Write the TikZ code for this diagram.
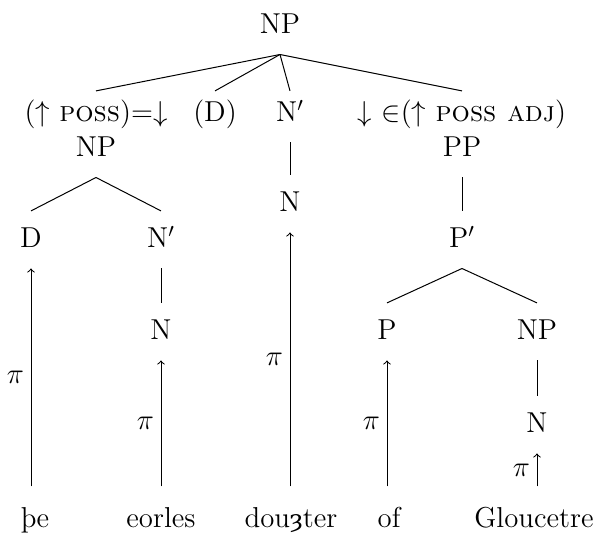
\documentclass[tikz,border=0pt]{standalone}
\usepackage{fontspec}
\newfontfamily\yoghfont[Scale=0.85]{DejaVu Serif}

\begin{document}
\begin{tikzpicture}[x=0.5pt, y=-0.5pt, line width=0.5pt,
    font=\fontsize{14.4}{17.28}\selectfont,
    cat/.style={inner sep=0pt, anchor=base, text height=18.3pt, text depth=10pt},
    fstr/.style={inner sep=0pt, anchor=base, text height=15.3pt, text depth=10pt},
    word/.style={inner sep=0pt, anchor=base, text height=20.5pt, text depth=0pt},
    proj/.style={->},
    lbl/.style={left}]
    \useasboundingbox (0,0) rectangle (596,534);

    % categories:
    \node[cat] (np0) at (280,34) {NP};
    \node[fstr] (f1) at (96,122) {($\uparrow$ \textsc{poss})=$\downarrow$};
    \node[fstr] (d0) at (215,122) {(D)};
    \node[fstr] (nb0) at (290,122) {N$'$};
    \node[fstr] (f2) at (462,122) {$\downarrow$ $\in$($\uparrow$ \textsc{poss adj})};
    \node[cat] (np1) at (96,157) {NP};
    \node[cat] (pp) at (462,157) {PP};
    \node[cat] (n0) at (290,212) {N};
    \node[cat] (d1) at (31,248) {D};
    \node[cat] (nb1) at (161,248) {N$'$};
    \node[cat] (pb) at (462,248) {P$'$};
    \node[cat] (n1) at (161,340) {N};
    \node[cat] (p) at (387,340) {P};
    \node[cat] (np2) at (537,340) {NP};
    \node[cat] (n2) at (537,433) {N};

    % words:
    \node[word] (w1) at (35,528) {þe};
    \node[word] (w2) at (161,528) {eorles};
    \node[word] (w3) at (291,528) {dou{\yoghfont ȝ}ter};
    \node[word] (w4) at (389,528) {of};
    \node[word] (w5) at (534,528) {Gloucetre};

    % lines:
    \draw (np0.south) -- (f1.north);
    \draw (np0.south) -- (d0.north);
    \draw (np0.south) -- (nb0.north);
    \draw (np0.south) -- (f2.north);
    \draw (np1.south) -- (d1.north);
    \draw (np1.south) -- (nb1.north);
    \draw (nb0.south) -- (n0.north);
    \draw (pp.south) -- (pb.north);
    \draw (nb1.south) -- (n1.north);
    \draw (pb.south) -- (p.north);
    \draw (pb.south) -- (np2.north);
    \draw (np2.south) -- (n2.north);

    % projection arrows:
    \draw[proj] (d1 |- w1.north) -- (d1.south) node[lbl, midway] {$\pi$};
    \draw[proj] (n1 |- w2.north) -- (n1.south) node[lbl, midway] {$\pi$};
    \draw[proj] (n0 |- w3.north) -- (n0.south) node[lbl, midway] {$\pi$};
    \draw[proj] (p |- w4.north) -- (p.south) node[lbl, midway] {$\pi$};
    \draw[proj] (n2 |- w5.north) -- (n2.south) node[lbl, midway] {$\pi$};
\end{tikzpicture}
\end{document}
